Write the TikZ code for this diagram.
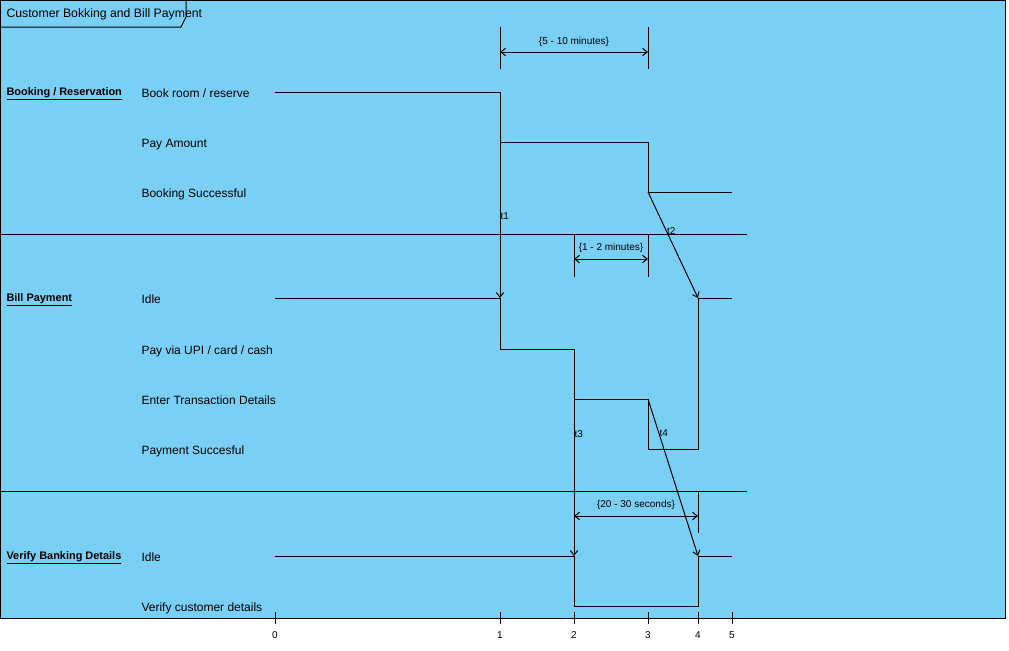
\documentclass[tikz,border=0pt]{standalone}
\usepackage{fontspec}
\setmainfont{Liberation Sans}
\usetikzlibrary{arrows.meta,calc}
\definecolor{vpblue}{RGB}{122,207,245}

\tikzset{
  state/.style={anchor=west,inner sep=0pt,text height=7.6pt,text depth=0pt,
    font=\fontsize{9}{11}\selectfont},
  lifename/.style={anchor=base west,inner sep=0pt,font=\bfseries\fontsize{8.2}{10}\selectfont},
  framelabel/.style={anchor=west,inner sep=0pt,font=\fontsize{9.2}{11}\selectfont},
  msglabel/.style={anchor=west,inner sep=0pt,font=\fontsize{7.5}{9}\selectfont},
  durlabel/.style={inner sep=1pt,font=\fontsize{7.5}{9}\selectfont},
  ticklabel/.style={inner sep=0pt,font=\fontsize{7.5}{9}\selectfont}
}

\begin{document}
\begin{tikzpicture}[x=0.75pt,y=-0.75pt,line width=0.75pt,
  >={Straight Barb[length=3.5pt,width=5.5pt]}]
\useasboundingbox (0,0) rectangle (1009,650);

% frame
\fill[vpblue] (0,0) rectangle (1005,618);
\draw (0,0) rectangle (1005,618);
\draw (0,27) -- (181,27) -- (186,17) -- (186,0);
\node[framelabel] (frametitle) at (6,14) {Customer Bokking and Bill Payment};

% lifeline separators
\draw (0,234) -- (747,234);
\draw (0,491) -- (747,491);

% time axis
\foreach \t/\x in {0/275,1/500,2/574,3/648,4/698,5/732}{
  \coordinate (T\t) at (\x,618);
  \draw (\x,612) -- (\x,624);
  \node[ticklabel] (tick\t) at (\x,635) {\t};
}

% states
\node[lifename] (bookline) at (6,95) {\underline{Booking / Reservation}};
\node[state] (sBook) at (141,92) {Book room / reserve};
\node[state] (sPay) at (141,142) {Pay Amount};
\node[state] (sBooked) at (141,192) {Booking Successful};

\node[lifename] (billline) at (6,301) {\underline{Bill Payment}};
\node[state] (sIdleB) at (141,298) {Idle};
\node[state] (sUPI) at (141,349) {Pay via UPI / card / cash};
\node[state] (sEnter) at (141,399) {Enter Transaction Details};
\node[state] (sPaid) at (141,449) {Payment Succesful};

\node[lifename] (verifyline) at (6,559) {\underline{Verify Banking Details}};
\node[state] (sIdleV) at (141,556) {Idle};
\node[state] (sVerify) at (141,606) {Verify customer details};

% timelines
\draw (T0 |- sBook) -- (T1 |- sBook) -- (T1 |- sPay) -- (T3 |- sPay)
  -- (T3 |- sBooked) -- (T5 |- sBooked);
\draw (T0 |- sIdleB) -- (T1 |- sIdleB) -- (T1 |- sUPI) -- (T2 |- sUPI)
  -- (T2 |- sEnter) -- (T3 |- sEnter) -- (T3 |- sPaid) -- (T4 |- sPaid)
  -- (T4 |- sIdleB) -- (T5 |- sIdleB);
\draw (T0 |- sIdleV) -- (T2 |- sIdleV) -- (T2 |- sVerify) -- (T4 |- sVerify)
  -- (T4 |- sIdleV) -- (T5 |- sIdleV);

% messages
\draw[->] (T1 |- sBook) -- (T1 |- sIdleB) node[msglabel,pos=0.6] (t1) {t1};
\draw[->] (T3 |- sBooked) -- (T4 |- sIdleB) node[msglabel,pos=0.37] (t2) {t2};
\draw[->] (T2 |- sUPI) -- (T2 |- sIdleV) node[msglabel,pos=0.41] (t3) {t3};
\draw[->] (T3 |- sEnter) -- (T4 |- sIdleV) node[msglabel,pos=0.22] (t4) {t4};

% duration constraints
\draw (500,27) -- (500,69);
\draw (648,27) -- (648,69);
\draw[<->] (500,52) -- (648,52);
\node[durlabel] (dur1) at (574,42) {\{5 - 10 minutes\}};

\draw (574,234) -- (574,277);
\draw (648,234) -- (648,277);
\draw[<->] (574,259) -- (648,259);
\node[durlabel] (dur2) at (611,248) {\{1 - 2 minutes\}};

\draw (698,491) -- (698,533);
\draw[<->] (574,516) -- (698,516);
\node[durlabel] (dur3) at (636,505) {\{20 - 30 seconds\}};
\end{tikzpicture}
\end{document}
